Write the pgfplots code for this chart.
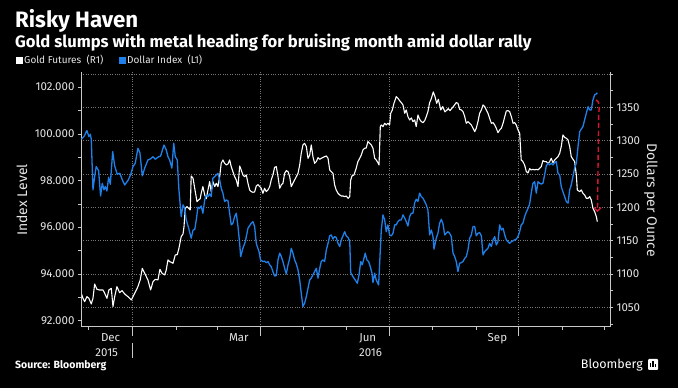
\documentclass[border=0pt]{standalone}
\usepackage{pgfplots}
\pgfplotsset{compat=1.18}
\usepackage{pgfplotstable}
\usepackage{fontspec}
\setmainfont{Fira Sans}
\usetikzlibrary{arrows.meta}
\definecolor{bbblue}{RGB}{30,128,232}
\definecolor{bbred}{RGB}{215,20,50}
\definecolor{gridc}{RGB}{120,120,120}
\definecolor{axc}{RGB}{200,200,200}
\definecolor{txt}{RGB}{230,230,230}

\pgfplotstableread{
d v
-5.3 99.77
-3.4 99.88
-1.3 100.14
0.1 99.88
1.1 99.98
1.8 99.77
3.0 97.60
4.2 98.17
5.3 98.60
7.0 98.42
8.4 97.34
9.6 97.88
10.8 97.60
11.7 97.74
12.9 97.55
14.1 98.14
15.3 97.84
17.0 99.24
18.4 98.63
20.2 98.27
22.1 98.31
23.6 98.06
25.5 97.81
27.8 98.00
29.7 98.24
31.4 98.60
33.0 98.74
34.9 99.38
36.3 99.19
38.0 98.20
39.7 98.53
42.0 98.88
43.9 98.93
45.6 99.02
47.2 98.91
49.1 99.00
51.0 99.05
53.4 99.52
55.0 99.31
56.2 99.02
57.4 98.88
59.0 98.53
60.3 99.60
61.4 99.02
62.8 98.88
64.0 97.60
65.6 96.45
66.9 96.96
68.1 96.81
69.2 96.31
70.9 95.96
72.7 95.53
74.0 95.88
75.2 95.90
76.3 96.31
77.5 96.86
78.7 96.81
79.8 96.91
81.0 96.60
82.3 97.17
83.4 97.38
84.6 97.31
85.8 97.43
86.9 97.31
88.1 98.10
89.4 98.17
90.5 98.24
91.7 98.31
92.9 98.03
94.0 97.67
95.2 97.46
96.4 97.10
97.6 97.17
98.8 97.13
100.0 96.60
101.1 96.10
102.3 96.17
103.5 96.45
104.7 96.60
105.9 96.03
107.1 95.31
107.8 94.74
109.4 95.10
111.1 95.38
113.0 95.96
114.2 96.07
115.3 96.17
116.5 96.24
117.7 96.03
118.9 95.30
120.8 94.96
121.9 94.60
123.6 94.53
124.8 94.55
126.0 94.48
127.2 94.53
128.4 94.39
129.5 94.31
130.7 94.10
131.9 93.91
133.1 93.93
134.3 94.60
135.5 94.89
136.6 94.75
137.8 94.53
139.0 94.24
140.2 94.00
141.4 94.39
142.6 94.67
143.7 95.10
144.9 94.89
146.1 94.60
147.3 94.43
148.5 94.17
149.7 93.74
150.8 93.17
152.0 92.60
153.2 92.75
154.4 93.03
155.6 93.39
156.8 93.74
157.9 93.82
159.1 93.96
160.3 94.10
161.5 94.24
162.7 93.82
163.9 94.24
165.0 94.53
166.2 94.60
167.4 94.53
168.6 95.03
169.8 95.31
171.0 95.63
172.1 95.67
173.3 95.49
174.5 95.60
175.6 95.56
176.9 95.31
178.1 95.17
179.2 95.46
180.4 95.63
181.6 95.81
182.7 95.63
184.0 95.56
185.2 95.40
185.9 94.06
187.5 93.88
189.1 93.74
190.6 93.60
191.8 93.96
193.0 94.53
194.1 94.39
195.3 94.67
196.2 94.89
197.4 94.60
198.6 94.53
199.8 94.31
201.0 94.03
201.7 93.63
202.9 94.03
204.0 93.74
205.7 93.53
206.9 95.03
207.6 95.88
208.8 96.53
210.0 96.31
211.1 95.81
212.3 96.10
213.5 95.67
214.7 95.63
215.9 95.74
217.1 96.10
218.2 96.10
219.4 96.24
220.6 96.31
221.8 96.31
223.0 96.53
224.2 96.39
225.3 96.24
226.5 96.05
227.7 96.45
228.9 96.60
230.1 96.60
231.3 97.05
232.4 97.20
233.6 97.10
234.8 97.46
236.0 97.31
237.2 97.24
238.4 97.10
239.5 96.96
240.7 96.74
241.9 95.67
243.1 95.88
244.3 95.60
245.0 95.06
246.6 95.53
247.8 95.74
249.0 96.17
250.2 96.34
251.4 96.14
252.6 95.67
253.7 95.74
254.9 95.81
256.1 95.74
257.3 95.60
258.5 94.89
259.7 94.74
260.8 94.53
262.0 94.10
263.2 94.46
264.4 94.48
265.6 94.53
266.8 94.67
267.9 94.74
269.1 95.03
270.3 95.53
271.5 95.67
272.7 96.03
273.9 96.03
275.0 95.63
276.2 95.74
277.4 95.77
278.6 95.63
279.8 94.81
281.0 94.96
282.1 95.03
283.3 95.10
284.5 95.31
285.7 95.17
286.9 95.46
288.1 95.60
289.2 95.24
290.4 95.38
291.6 96.10
292.8 95.88
294.0 95.96
295.2 95.67
296.3 95.46
297.5 95.38
298.7 95.31
299.9 95.38
301.1 95.42
302.3 95.46
303.4 95.49
304.6 95.60
305.8 95.81
306.9 96.10
308.1 96.17
309.3 96.45
310.5 96.65
311.7 96.80
312.9 97.00
314.0 97.46
315.2 97.88
316.4 97.95
317.6 97.46
318.8 97.95
320.0 97.88
321.1 97.85
322.3 97.88
323.5 98.24
324.7 98.63
325.9 98.74
327.1 98.67
328.2 98.74
329.4 98.67
330.7 98.77
331.8 98.81
333.0 98.31
334.2 98.24
335.3 97.74
336.5 97.52
337.7 97.31
338.9 97.10
340.1 97.03
341.3 97.60
342.4 97.81
343.6 98.17
344.8 98.53
346.0 98.74
347.2 99.45
348.4 100.09
349.5 100.20
350.7 100.31
351.9 100.60
353.1 100.88
354.3 101.16
355.5 101.02
356.6 101.02
357.8 101.45
359.0 101.67
360.2 101.71
360.9 101.76
}\dollartab

\pgfplotstableread{
d v
-5.3 1071
-4.1 1063.5
-2.9 1058.5
-1.3 1066
0.1 1063.5
1.8 1055
3.0 1063.5
4.2 1085
5.8 1077
7.7 1076
10.1 1076
11.3 1071
12.9 1063.5
14.3 1076
16.0 1078.5
17.2 1051
18.4 1066
20.0 1081
21.9 1072
23.6 1075
25.5 1070
27.8 1066
30.2 1061
32.6 1071
34.9 1081
36.5 1091
38.0 1108.5
39.7 1101
42.0 1091
43.9 1076
45.6 1088.5
47.2 1092
49.1 1091
50.5 1107
52.0 1101
53.9 1098.5
55.0 1106
56.2 1121
57.4 1118.5
58.1 1118
59.8 1116
61.4 1128.5
62.8 1129
64.0 1138.5
65.6 1156
66.9 1160
67.6 1171
68.5 1198.5
69.7 1201
70.9 1198.5
72.0 1196
72.7 1247
74.0 1243.5
75.2 1228.5
76.8 1208.5
78.0 1211
79.1 1213
79.8 1221
81.0 1231
82.3 1218.5
83.4 1213
84.6 1226
85.8 1238.5
86.9 1223.5
88.1 1238.5
89.4 1231
90.5 1236
91.7 1231
92.9 1246
94.0 1266
95.2 1271
96.4 1266
97.6 1263.5
98.8 1265
100.0 1271
101.1 1261
102.3 1253.5
103.5 1246
104.7 1241
105.9 1231
107.1 1262
108.2 1256
109.4 1248.5
110.6 1246
111.8 1248.5
113.0 1236
114.2 1226
115.3 1223.5
116.5 1222.5
117.7 1223
118.9 1232
120.1 1234
122.4 1228.5
123.6 1221
124.8 1228.5
126.0 1223.5
127.2 1226
128.4 1231
129.5 1241
130.7 1248.5
131.9 1260
133.1 1261
134.3 1246
135.5 1228.5
136.6 1233.5
137.8 1236
139.0 1251
140.2 1255
141.4 1253.5
142.6 1246
143.7 1231
144.9 1236
146.1 1241
147.3 1246
148.5 1251
149.7 1263.5
150.8 1281
152.0 1293.5
153.2 1296
154.4 1291
155.6 1273.5
156.8 1278.5
157.9 1293.5
159.1 1276
160.3 1266
161.5 1268.5
162.7 1274.5
163.9 1272
165.0 1273.5
167.4 1276
168.6 1277
169.8 1273.5
171.0 1256
172.1 1253.5
173.3 1251
174.5 1233.5
175.6 1226
176.9 1221
178.1 1218.5
179.2 1217
180.4 1217
181.6 1216
182.7 1217
184.0 1213.5
185.2 1216
185.9 1241
186.8 1247
188.2 1248.5
189.8 1258.5
191.0 1268.5
192.3 1273.5
193.4 1278.5
194.6 1286
195.8 1288.5
196.9 1289
198.1 1298.5
199.4 1296
200.5 1293.5
201.7 1288.5
202.9 1273.5
204.0 1271
205.2 1267
206.0 1263.5
206.9 1321
207.6 1323.5
208.8 1321
210.0 1326
211.1 1323.5
212.3 1326
213.5 1323.5
214.3 1341
215.4 1346
216.6 1356
218.2 1366
219.4 1363.5
220.6 1360
221.8 1357
223.0 1353.5
224.2 1341
225.3 1346
226.5 1336
227.7 1331
228.9 1334
230.1 1328.5
231.3 1331
232.4 1321
233.6 1338.5
234.8 1332
236.0 1328.5
237.2 1327
238.4 1330
239.5 1336
240.7 1343.5
241.9 1357
243.1 1363
244.5 1373
245.7 1366
246.9 1356
248.1 1362
249.8 1346
251.2 1351
252.8 1343
255.2 1348
256.3 1345
258.7 1351
260.8 1357
262.0 1356
263.2 1347
264.4 1346
265.6 1343.5
266.8 1336
267.9 1326
269.1 1328.5
270.3 1326
271.5 1323.5
272.7 1318.5
273.9 1313.5
275.0 1318.5
276.2 1328.5
277.4 1341
278.6 1346
279.8 1353.5
281.0 1351
282.1 1346
283.3 1341
284.5 1333.5
285.7 1326
286.9 1327
288.1 1323.5
289.2 1318.5
290.4 1312
291.6 1316
292.8 1318.5
294.0 1326
295.2 1336
296.3 1344.5
297.5 1345
298.7 1343.5
299.9 1336
301.1 1326
302.3 1327
303.4 1323.5
304.6 1316
305.8 1311
306.9 1271
308.1 1268.5
309.3 1263.5
310.5 1253.5
311.7 1251.5
312.9 1258
314.0 1256
315.2 1257
316.4 1256
317.6 1257
318.8 1256
320.0 1258.5
321.1 1261
322.3 1270
323.5 1268.5
324.7 1268.5
325.9 1266
327.1 1268.5
328.2 1273.5
329.4 1267
330.7 1271
331.8 1273.5
333.0 1276
334.2 1281
335.3 1291
336.5 1308.5
337.7 1305
338.9 1303.5
340.1 1301
341.3 1291
342.4 1276
343.6 1272
344.8 1268.5
346.0 1248.5
346.7 1226
348.4 1223.5
349.5 1226
350.7 1221
351.9 1218.5
353.1 1213.5
354.3 1213.5
355.5 1216
356.6 1211
357.8 1198.5
359.0 1193.5
360.2 1186
360.9 1178.5
}\goldtab

\begin{document}
\begin{tikzpicture}
\fill[black] (0pt,0pt) rectangle (678pt,388pt);
\useasboundingbox (0pt,0pt) rectangle (678pt,388pt);
% titles
\node[anchor=base west, inner sep=0pt, text=white, font=\fontsize{22.3}{22.3}\selectfont\bfseries] at (15pt,360pt) {Risky Haven};
\node[anchor=base west, inner sep=0pt, text=white, font=\fontsize{16.6}{16.6}\selectfont\bfseries] at (15pt,340.5pt) {Gold slumps with metal heading for bruising month amid dollar rally};
% legend
\fill[white] (16pt,324pt) rectangle (22.5pt,330.5pt);
\node[anchor=base west, inner sep=0pt, text=txt, font=\fontsize{10}{10}\selectfont] at (24pt,324pt) {Gold Futures\ \ (R1)};
\fill[bbblue] (119pt,324pt) rectangle (125.5pt,330.5pt);
\node[anchor=base west, inner sep=0pt, text=txt, font=\fontsize{10}{10}\selectfont] at (127pt,324pt) {Dollar Index\ \ (L1)};

% gold axis (right)
\begin{axis}[
  at={(81pt,61.3pt)}, anchor=south west, scale only axis,
  width=529pt, height=255pt,
  xmin=-5.5, xmax=369.9, ymin=1020.9, ymax=1403.4,
  axis y line*=right, axis x line*=bottom,
  x axis line style={draw=none},
  y axis line style={axc, line width=0.6pt},
  xtick={31,122,213,305}, xticklabels={},
  major x tick style={draw=none},
  xmajorgrids, ymajorgrids,
  major grid style={gridc, dotted, line width=0.6pt},
  ytick={1050,1100,1150,1200,1250,1300,1350,1400},
  yticklabels={1050,1100,1150,1200,1250,1300,1350,{}},
  minor ytick={1025,1075,1125,1175,1225,1275,1325,1375},
  tick align=outside,
  major tick length=3pt, minor tick length=3pt,
  y tick style={axc, line width=0.6pt},
  yticklabel style={text=txt, font=\fontsize{11.5}{11.5}\selectfont, xshift=0pt},
]
\addplot[white, line width=1.1pt, line join=round] table[x=d, y=v] {\goldtab};
\end{axis}

% dollar axis (left)
\begin{axis}[
  at={(81pt,61.3pt)}, anchor=south west, scale only axis,
  width=529pt, height=255pt,
  xmin=-5.5, xmax=369.9, ymin=91.74, ymax=102.66,
  axis y line*=left, axis x line*=bottom,
  axis line style={axc, line width=0.6pt},
  xtick={15.5,106.5,198,290}, xticklabels={Dec,Mar,Jun,Sep},
  major x tick style={draw=none},
  minor xtick={0,31,62,91,122,152,183,213,244,275,305,336,366},
  minor x tick style={axc, line width=0.6pt},
  xticklabel style={text=txt, font=\fontsize{11.5}{11.5}\selectfont, yshift=0pt},
  ytick={92,94,96,98,100,102},
  yticklabels={92.000,94.000,96.000,98.000,100.000,102.000},
  minor ytick={93,95,97,99,101},
  tick align=outside,
  major tick length=3pt, minor tick length=3pt,
  y tick style={axc, line width=0.6pt},
  yticklabel style={text=txt, font=\fontsize{11.5}{11.5}\selectfont},
  clip=false,
]
\addplot[bbblue, line width=1.3pt, line join=round] table[x=d, y=v] {\dollartab};
% quarter ticks and year separator
\draw[axc, line width=0.6pt] (axis cs:31,91.74) -- ++(0pt,-9pt);
\draw[axc, line width=0.6pt] (axis cs:122,91.74) -- ++(0pt,-9pt);
\draw[axc, line width=0.6pt] (axis cs:213,91.74) -- ++(0pt,-9pt);
\draw[axc, line width=0.6pt] (axis cs:305,91.74) -- ++(0pt,-9pt);
\draw[axc, line width=0.6pt] ([yshift=-16pt]axis cs:31,91.74) -- ([yshift=-31pt]axis cs:31,91.74);
\node[text=txt, font=\fontsize{11.5}{11.5}\selectfont, anchor=base] at ([yshift=-30pt]axis cs:12.75,91.74) {2015};
\node[text=txt, font=\fontsize{11.5}{11.5}\selectfont, anchor=base] at ([yshift=-30pt]axis cs:200,91.74) {2016};
% red annotation arrow
\draw[bbred, line width=1.4pt, dash pattern=on 5pt off 3pt, -{Straight Barb[length=3.5pt,width=7pt]}]
  (axis cs:360.0,101.45) .. controls (axis cs:362.5,101.4) and (axis cs:362.6,101.15) .. (axis cs:361.9,100.9)
  -- (axis cs:361.0,96.65);
\end{axis}

\node[rotate=90, text=txt, font=\fontsize{14}{14}\selectfont] at (22pt,188pt) {Index Level};
\node[rotate=-90, text=txt, font=\fontsize{14}{14}\selectfont] at (651pt,188pt) {Dollars per Ounce};
\node[anchor=base west, inner sep=0pt, text=white, font=\fontsize{10.5}{10.5}\selectfont\bfseries] at (15pt,19.5pt) {Source: Bloomberg};
\node[anchor=base east, inner sep=0pt, text=white, font=\fontsize{12.5}{12.5}\selectfont] at (643pt,19.5pt) {Bloomberg};
\fill[white, rounded corners=1pt] (648pt,18pt) rectangle (658pt,29pt);
\fill[black] (650pt,21pt) rectangle (651.2pt,25pt);
\fill[black] (652.4pt,21pt) rectangle (653.6pt,27pt);
\fill[black] (654.8pt,21pt) rectangle (656pt,24pt);
\end{tikzpicture}
\end{document}
